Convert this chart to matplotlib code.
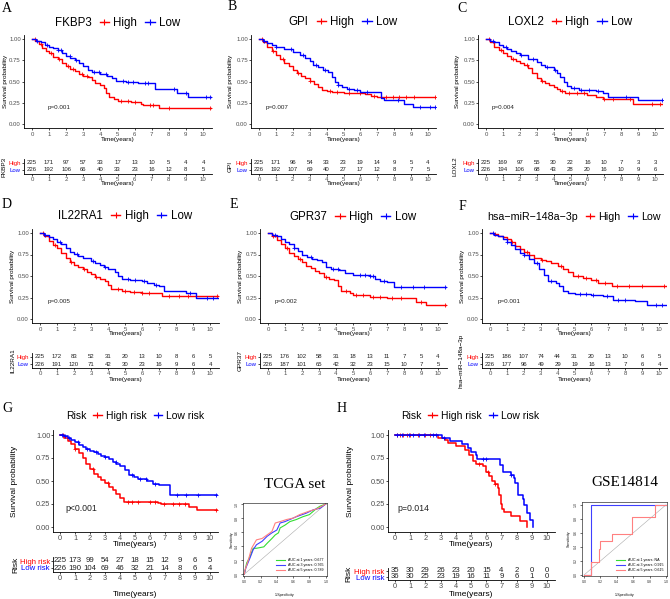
import numpy as np
import matplotlib
matplotlib.use('Agg')
import matplotlib.pyplot as plt
from matplotlib.lines import Line2D

plt.rcParams['font.family'] = ['Liberation Sans', 'DejaVu Sans']

W, H = 670, 599
RED = '#ff0000'
BLUE = '#0000ff'
GREY = '#4d4d4d'

# risk table time points
times = [0, 1, 2, 3, 4, 5, 6, 7, 8, 9, 10]

# ---- survival curves: (time, survival) step points ----
fkbp3_high = [(0, 1.0), (0.2, 0.98), (0.4, 0.94), (0.6, 0.9), (0.8, 0.86), (1.0, 0.83), (1.25, 0.79), (1.5, 0.76),
              (1.75, 0.72), (2.0, 0.68), (2.25, 0.65), (2.5, 0.62), (2.75, 0.59), (3.0, 0.57), (3.25, 0.55),
              (3.5, 0.52), (3.7, 0.48), (4.0, 0.46), (4.2, 0.42), (4.3, 0.36), (4.5, 0.32), (4.8, 0.29),
              (5.0, 0.27), (5.8, 0.26), (6.4, 0.24), (6.5, 0.22), (7.4, 0.19)]
fkbp3_low = [(0, 1.0), (0.25, 0.98), (0.5, 0.96), (0.75, 0.93), (1.0, 0.91), (1.25, 0.89), (1.5, 0.87), (1.75, 0.84),
             (2.0, 0.8), (2.25, 0.78), (2.5, 0.75), (2.75, 0.72), (3.0, 0.68), (3.25, 0.64), (3.5, 0.61), (4.0, 0.59),
             (4.4, 0.57), (4.7, 0.54), (4.9, 0.51), (5.5, 0.5), (6.2, 0.48), (7.2, 0.41), (8.5, 0.37), (9.1, 0.32)]
gpi_high = [(0, 1.0), (0.25, 0.96), (0.5, 0.91), (0.75, 0.86), (1.0, 0.81), (1.25, 0.77), (1.5, 0.72), (1.75, 0.68),
            (2.0, 0.64), (2.25, 0.6), (2.5, 0.57), (2.75, 0.54), (3.0, 0.51), (3.25, 0.47), (3.5, 0.43), (3.75, 0.4),
            (4.0, 0.39), (4.3, 0.38), (5.0, 0.37), (6.3, 0.35), (6.6, 0.33), (7.0, 0.32)]
gpi_low = [(0, 1.0), (0.25, 0.98), (0.5, 0.95), (0.75, 0.93), (1.0, 0.91), (1.5, 0.88), (2.0, 0.85), (2.4, 0.81),
           (2.7, 0.78), (3.0, 0.74), (3.2, 0.7), (3.5, 0.67), (3.8, 0.64), (4.1, 0.61), (4.3, 0.55), (4.5, 0.5),
           (4.7, 0.46), (4.9, 0.43), (5.2, 0.41), (5.6, 0.4), (6.0, 0.38), (7.2, 0.31), (7.4, 0.28), (8.6, 0.24),
           (9.1, 0.2)]
loxl2_high = [(0, 1.0), (0.25, 0.96), (0.5, 0.91), (0.75, 0.87), (1.0, 0.83), (1.25, 0.8), (1.5, 0.77), (1.75, 0.74),
              (2.0, 0.72), (2.25, 0.69), (2.5, 0.66), (2.75, 0.6), (3.0, 0.54), (3.25, 0.51), (3.5, 0.48),
              (3.75, 0.46), (4.0, 0.44), (4.2, 0.41), (4.4, 0.39), (4.7, 0.37), (5.0, 0.36), (6.0, 0.34),
              (6.5, 0.32), (6.9, 0.3), (7.3, 0.29), (8.7, 0.23)]
loxl2_low = [(0, 1.0), (0.25, 0.98), (0.5, 0.96), (0.75, 0.93), (1.0, 0.91), (1.25, 0.88), (1.5, 0.86), (1.75, 0.83),
             (2.0, 0.81), (2.5, 0.77), (3.0, 0.73), (3.25, 0.7), (3.5, 0.67), (4.0, 0.63), (4.2, 0.6), (4.4, 0.55),
             (4.6, 0.5), (4.8, 0.45), (5.0, 0.42), (5.5, 0.4), (6.5, 0.39), (6.9, 0.37), (7.2, 0.32), (9.0, 0.28)]
il22ra1_high = [(0, 1.0), (0.25, 0.96), (0.5, 0.91), (0.75, 0.86), (1.0, 0.82), (1.25, 0.77), (1.5, 0.71),
                (1.75, 0.66), (2.0, 0.63), (2.25, 0.6), (2.5, 0.58), (2.75, 0.55), (3.0, 0.52), (3.25, 0.49),
                (3.5, 0.46), (3.8, 0.44), (4.0, 0.4), (4.2, 0.35), (4.8, 0.33), (5.3, 0.31), (6.0, 0.3), (7.2, 0.27)]
il22ra1_low = [(0, 1.0), (0.25, 0.98), (0.5, 0.95), (0.75, 0.93), (1.0, 0.9), (1.25, 0.87), (1.5, 0.82), (1.75, 0.78),
               (2.0, 0.76), (2.25, 0.73), (2.5, 0.71), (3.0, 0.67), (3.25, 0.65), (3.5, 0.63), (3.75, 0.6),
               (4.0, 0.58), (4.4, 0.55), (4.6, 0.5), (4.8, 0.47), (5.3, 0.45), (6.0, 0.44), (6.3, 0.42), (6.7, 0.4),
               (7.0, 0.38), (7.3, 0.33), (8.6, 0.3), (9.2, 0.24)]
gpr37_high = [(0, 1.0), (0.25, 0.97), (0.5, 0.92), (0.75, 0.87), (1.0, 0.82), (1.25, 0.77), (1.5, 0.73), (1.75, 0.7),
              (2.0, 0.66), (2.25, 0.62), (2.5, 0.59), (2.75, 0.56), (3.0, 0.53), (3.3, 0.49), (3.6, 0.47),
              (3.9, 0.45), (4.1, 0.38), (4.3, 0.33), (4.8, 0.3), (5.0, 0.28), (6.0, 0.26), (7.0, 0.24), (8.7, 0.2),
              (9.3, 0.16)]
gpr37_low = [(0, 1.0), (0.25, 0.98), (0.5, 0.96), (0.75, 0.93), (1.0, 0.9), (1.25, 0.87), (1.5, 0.83), (1.75, 0.79),
             (2.0, 0.75), (2.3, 0.72), (2.6, 0.7), (2.9, 0.69), (3.2, 0.66), (3.4, 0.6), (3.7, 0.58), (4.2, 0.57),
             (4.5, 0.53), (5.0, 0.51), (6.0, 0.5), (6.3, 0.47), (6.6, 0.44), (7.0, 0.43), (7.4, 0.37)]
mir_high = [(0, 1.0), (0.25, 0.99), (0.5, 0.97), (0.75, 0.95), (1.0, 0.93), (1.25, 0.9), (1.5, 0.85), (1.75, 0.81),
            (2.0, 0.78), (2.3, 0.74), (2.6, 0.71), (3.0, 0.69), (3.3, 0.67), (3.6, 0.65), (4.0, 0.62), (4.3, 0.58),
            (4.6, 0.55), (4.9, 0.5), (5.5, 0.48), (6.0, 0.45), (6.4, 0.42), (7.2, 0.38)]
mir_low = [(0, 1.0), (0.25, 0.98), (0.5, 0.96), (0.75, 0.93), (1.0, 0.9), (1.25, 0.86), (1.5, 0.81), (1.75, 0.77),
           (2.0, 0.74), (2.3, 0.7), (2.6, 0.65), (2.9, 0.58), (3.2, 0.51), (3.45, 0.44), (3.9, 0.42), (4.1, 0.38),
           (4.3, 0.33), (4.6, 0.3), (5.0, 0.29), (6.0, 0.28), (6.7, 0.27), (7.3, 0.22), (8.6, 0.21), (9.3, 0.16)]
tcga_high = [(0, 1.0), (0.25, 0.97), (0.5, 0.94), (0.75, 0.9), (1.0, 0.85), (1.25, 0.8), (1.5, 0.75), (1.75, 0.69),
             (2.0, 0.63), (2.25, 0.58), (2.5, 0.54), (2.75, 0.51), (3.0, 0.48), (3.25, 0.44), (3.5, 0.4),
             (3.75, 0.36), (4.0, 0.32), (4.25, 0.27), (6.5, 0.26), (6.7, 0.25), (8.6, 0.22), (9.1, 0.18)]
tcga_low = [(0, 1.0), (0.25, 0.99), (0.5, 0.97), (0.75, 0.95), (1.0, 0.92), (1.25, 0.89), (1.5, 0.87), (1.75, 0.85),
            (2.0, 0.83), (2.25, 0.81), (2.5, 0.79), (2.75, 0.77), (3.0, 0.76), (3.25, 0.74), (3.5, 0.71),
            (3.75, 0.69), (4.0, 0.66), (4.3, 0.62), (4.6, 0.57), (4.9, 0.54), (5.2, 0.52), (5.8, 0.5), (6.2, 0.47),
            (6.6, 0.46), (7.3, 0.35)]
gse_high = [(0, 1.0), (2.8, 0.97), (3.3, 0.95), (3.5, 0.91), (4.0, 0.88), (4.6, 0.84), (4.9, 0.78), (5.1, 0.72),
            (5.3, 0.69), (5.8, 0.66), (6.0, 0.6), (6.2, 0.55), (6.4, 0.5), (6.6, 0.47), (6.75, 0.42), (6.85, 0.35),
            (6.95, 0.25), (7.05, 0.2), (7.2, 0.16), (7.6, 0.12), (8.25, 0.06), (8.7, 0.0)]
gse_low = [(0, 1.0), (3.1, 0.97), (3.6, 0.94), (4.4, 0.9), (4.8, 0.86), (5.0, 0.82), (5.3, 0.78), (5.4, 0.74),
           (6.9, 0.67), (7.1, 0.6), (7.6, 0.57), (7.8, 0.53), (7.9, 0.48), (8.1, 0.35), (8.4, 0.3), (8.5, 0.24),
           (8.7, 0.15), (8.85, 0.08), (9.05, 0.0)]

# ---- censoring times ----
fkbp3_high_cens = [0.15, 0.5, 1.1, 1.6, 2.1, 2.4, 2.9, 3.2, 5.2, 5.6, 6.0, 6.9, 7.1, 8.0, 10.4]
fkbp3_low_cens = [0.3, 0.9, 1.5, 1.7, 2.2, 2.6, 3.6, 3.9, 4.3, 5.3, 5.6, 5.9, 6.6, 6.8, 8.3, 9.0, 10.2, 10.4]
gpi_high_cens = [0.2, 0.8, 1.4, 2.3, 3.0, 4.2, 4.6, 5.3, 6.0, 6.8, 7.5, 7.9, 8.3, 8.7, 9.2, 10.4]
gpi_low_cens = [0.3, 1.0, 1.9, 2.6, 3.4, 3.9, 4.7, 5.3, 5.8, 6.4, 8.2, 9.5, 10.1, 10.4]
loxl2_high_cens = [0.2, 0.9, 1.6, 2.4, 3.3, 4.5, 4.9, 5.4, 5.8, 7.0, 7.5, 8.5, 9.8, 10.3]
loxl2_low_cens = [0.4, 1.2, 2.1, 2.8, 3.6, 4.1, 5.2, 5.6, 6.1, 6.6, 8.3, 10.4]
il22ra1_high_cens = [0.2, 0.9, 1.8, 2.6, 3.3, 4.6, 5.0, 5.5, 6.0, 6.4, 7.6, 8.2, 8.7, 10.4]
il22ra1_low_cens = [0.3, 1.2, 2.2, 3.1, 3.8, 5.2, 5.6, 6.1, 6.8, 8.8, 9.8, 10.2]
gpr37_high_cens = [0.3, 1.1, 1.9, 3.4, 4.6, 5.2, 5.6, 6.2, 6.6, 7.3, 7.8, 9.0, 10.4]
gpr37_low_cens = [0.4, 1.5, 2.5, 3.8, 4.1, 5.4, 5.7, 6.0, 6.2, 6.8, 7.8, 8.5, 9.2, 10.4]
mir_high_cens = [0.3, 1.3, 2.2, 3.1, 4.2, 5.2, 5.7, 6.3, 6.8, 7.5, 8.2, 9.0, 10.3]
mir_low_cens = [0.2, 1.0, 2.0, 2.8, 3.6, 5.3, 5.7, 6.1, 6.9, 7.6, 8.0, 9.8, 10.2]
tcga_high_cens = [0.2, 1.0, 2.2, 3.2, 4.5, 4.8, 5.2, 6.0, 6.3, 6.9, 7.5, 7.9, 8.3, 10.4]
tcga_low_cens = [0.1, 0.3, 0.6, 1.2, 1.8, 2.4, 3.0, 3.7, 4.8, 5.3, 5.7, 6.3, 7.8, 8.4, 9.2, 10.4]
gse_high_cens = [0.15, 0.35, 0.5, 0.8, 1.0, 1.5, 2.0, 2.3, 5.5, 6.1, 6.6]
gse_low_cens = [0.1, 0.45, 0.9, 1.2, 1.6, 1.9, 2.5, 2.7, 3.2, 5.8, 6.0, 7.6]

# ---- numbers at risk ----
fkbp3_risk_high = [225, 171, 97, 57, 33, 17, 13, 10, 5, 4, 4]
fkbp3_risk_low = [226, 192, 106, 66, 40, 33, 23, 16, 12, 8, 5]
gpi_risk_high = [225, 171, 96, 54, 33, 23, 19, 14, 9, 5, 4]
gpi_risk_low = [226, 192, 107, 69, 40, 27, 17, 12, 8, 7, 5]
loxl2_risk_high = [225, 169, 97, 55, 30, 22, 16, 10, 7, 3, 3]
loxl2_risk_low = [226, 194, 106, 68, 43, 28, 20, 16, 10, 9, 6]
il22ra1_risk_high = [225, 172, 83, 52, 31, 20, 13, 10, 8, 6, 5]
il22ra1_risk_low = [226, 191, 120, 71, 42, 30, 23, 16, 9, 6, 4]
gpr37_risk_high = [225, 176, 102, 58, 31, 18, 13, 11, 7, 5, 4]
gpr37_risk_low = [226, 187, 101, 65, 42, 32, 23, 15, 10, 7, 5]
mir_risk_high = [225, 186, 107, 74, 44, 31, 20, 13, 10, 6, 5]
mir_risk_low = [226, 177, 96, 49, 29, 19, 16, 13, 7, 6, 4]
tcga_risk_high = [225, 173, 99, 54, 27, 18, 15, 12, 9, 6, 5]
tcga_risk_low = [226, 190, 104, 69, 46, 32, 21, 14, 8, 6, 4]
gse_risk_high = [35, 30, 29, 26, 23, 20, 15, 4, 2, 0, 0]
gse_risk_low = [36, 30, 25, 23, 19, 16, 11, 9, 6, 1, 0]

# ---- ROC curves (1-specificity, sensitivity) ----
tcga_roc_1y = [(0, 0), (0.03, 0.16), (0.07, 0.25), (0.11, 0.37), (0.15, 0.37), (0.24, 0.39), (0.28, 0.44),
               (0.34, 0.51), (0.38, 0.56), (0.42, 0.59), (0.44, 0.66), (0.5, 0.7), (0.56, 0.75), (0.64, 0.78),
               (0.72, 0.82), (0.8, 0.85), (0.89, 0.94), (0.93, 0.97), (1, 1)]
tcga_roc_3y = [(0, 0), (0.02, 0.09), (0.07, 0.23), (0.11, 0.35), (0.15, 0.42), (0.22, 0.47), (0.28, 0.54),
               (0.34, 0.59), (0.4, 0.63), (0.44, 0.73), (0.5, 0.75), (0.56, 0.78), (0.64, 0.82), (0.76, 0.87),
               (0.85, 0.92), (0.93, 0.94), (1, 1)]
tcga_roc_5y = [(0, 0), (0.01, 0.06), (0.05, 0.2), (0.09, 0.37), (0.15, 0.49), (0.22, 0.51), (0.28, 0.56),
               (0.34, 0.61), (0.38, 0.73), (0.44, 0.75), (0.52, 0.78), (0.6, 0.8), (0.68, 0.85), (0.8, 0.9),
               (0.89, 0.93), (1, 1)]
tcga_auc_labels = ['AUC at 1 years: 0.677', 'AUC at 3 years: 0.765', 'AUC at 5 years: 0.789']
gse_roc_1y = []
gse_roc_3y = [(0, 0), (0.08, 0), (0.08, 1.0), (1, 1)]
gse_roc_5y = [(0, 0), (0.08, 0), (0.08, 0.19), (0.18, 0.19), (0.18, 0.37), (0.2, 0.37), (0.2, 0.49), (0.34, 0.49),
              (0.34, 0.59), (0.59, 0.59), (0.59, 0.83), (0.86, 0.83), (0.86, 1.0), (1, 1)]
gse_auc_labels = ['AUC at 1 years: NA', 'AUC at 3 years: 0.915', 'AUC at 5 years: 0.615']

MINUS = '\u2212'
mir_name = 'hsa' + MINUS + 'miR' + MINUS + '148a' + MINUS + '3p'

# layout in pixels of the reference picture
panels = [
    dict(letter='A', name='FKBP3', high=fkbp3_high, low=fkbp3_low, hc=fkbp3_high_cens, lc=fkbp3_low_cens,
         rh=fkbp3_risk_high, rl=fkbp3_risk_low, p='p=0.001', pt=1.6,
         x0=32, x10=203, y1=39, y0=124, rhi=163, rlo=170, rax=174, let=(7, 8), leg=(117.5, 23),
         ylab=5.8, rylab=4, xlab=140, rxlab=184, big=False),
    dict(letter='B', name='GPI', high=gpi_high, low=gpi_low, hc=gpi_high_cens, lc=gpi_low_cens,
         rh=gpi_risk_high, rl=gpi_risk_low, p='p=0.007', pt=1.05,
         x0=259, x10=428, y1=39, y0=124, rhi=163, rlo=170, rax=174, let=(232, 7), leg=(343, 22),
         ylab=230.5, rylab=230, xlab=140, rxlab=184, big=False),
    dict(letter='C', name='LOXL2', high=loxl2_high, low=loxl2_low, hc=loxl2_high_cens, lc=loxl2_low_cens,
         rh=loxl2_risk_high, rl=loxl2_risk_low, p='p=0.004', pt=1.0,
         x0=486, x10=655, y1=39, y0=124, rhi=163, rlo=170, rax=174, let=(462, 8), leg=(570, 22),
         ylab=457.5, rylab=455, xlab=140, rxlab=184, big=False),
    dict(letter='D', name='IL22RA1', high=il22ra1_high, low=il22ra1_low, hc=il22ra1_high_cens,
         lc=il22ra1_low_cens, rh=il22ra1_risk_high, rl=il22ra1_risk_low, p='p=0.005', pt=1.1,
         x0=40, x10=210, y1=233, y0=319, rhi=357, rlo=364, rax=368, let=(7, 205), leg=(125, 216),
         ylab=12.5, rylab=12.5, xlab=334, rxlab=379, big=False),
    dict(letter='E', name='GPR37', high=gpr37_high, low=gpr37_low, hc=gpr37_high_cens, lc=gpr37_low_cens,
         rh=gpr37_risk_high, rl=gpr37_risk_low, p='p=0.002', pt=1.06,
         x0=268, x10=438, y1=233, y0=319, rhi=357, rlo=364, rax=368, let=(234, 204), leg=(352.7, 216.7),
         ylab=240.5, rylab=240.5, xlab=334, rxlab=379, big=False),
    dict(letter='F', name=mir_name, high=mir_high, low=mir_low, hc=mir_high_cens, lc=mir_low_cens,
         rh=mir_risk_high, rl=mir_risk_low, p='p=0.001', pt=1.1,
         x0=490, x10=659, y1=233, y0=319, rhi=357, rlo=364, rax=368, let=(462, 206), leg=(574, 217),
         ylab=462.5, rylab=461.5, xlab=334, rxlab=379, big=False, legfs=7.7),
    dict(letter='G', name='Risk', high=tcga_high, low=tcga_low, hc=tcga_high_cens, lc=tcga_low_cens,
         rh=tcga_risk_high, rl=tcga_risk_low, p='p<0.001', pt=1.4,
         x0=60, x10=210, y1=435, y0=527, rhi=561, rlo=568, rax=572, let=(7, 409), leg=(135, 416),
         ylab=15, rylab=16, xlab=545, rxlab=594, big=True),
    dict(letter='H', name='Risk', high=gse_high, low=gse_low, hc=gse_high_cens, lc=gse_low_cens,
         rh=gse_risk_high, rl=gse_risk_low, p='p=0.014', pt=1.2,
         x0=395, x10=547, y1=435, y0=527, rhi=571, rlo=577, rax=580, let=(342, 409), leg=(470, 416),
         ylab=350, rylab=349, xlab=545, rxlab=594, big=True, no_extend=True),
]

XMIN, XMAX = -0.45, 10.5
YMIN, YMAX = -0.05, 1.05


def rect(l, t, r, b):
    return [l / W, 1 - b / H, (r - l) / W, (b - t) / H]


def style(ax, fs, pad=1.0):
    for s in ['top', 'right']:
        ax.spines[s].set_visible(False)
    for s in ['left', 'bottom']:
        ax.spines[s].set_linewidth(0.6)
    ax.tick_params(length=1.5, width=0.5, labelsize=fs, pad=pad, labelcolor=GREY)


def surv_at(t, s, c):
    i = np.searchsorted(t, c, side='right') - 1
    return s[max(i, 0)]


fig = plt.figure(figsize=(W / 100, H / 100), dpi=100)

for pnl in panels:
    big = pnl['big']
    fs_tick = 5.3 if big else 4.3
    fs_lab = 6.0 if big else 4.6
    fs_p = 6.3 if big else 4.5
    fs_num = 5.6 if big else 4.3
    fs_leg = pnl.get('legfs', 7.5 if big else 8.3)
    rows = ('High risk', 'Low risk') if big else ('High', 'Low')

    ppx = (pnl['x10'] - pnl['x0']) / 10.0
    left = pnl['x0'] + XMIN * ppx
    right = pnl['x0'] + XMAX * ppx
    ppy = pnl['y0'] - pnl['y1']
    top = pnl['y1'] - (YMAX - 1) * ppy
    bottom = pnl['y0'] - YMIN * ppy

    ax = fig.add_axes(rect(left, top, right, bottom))
    style(ax, fs_tick, pad=0.6 if big else 1.0)
    ax.set_xlim(XMIN, XMAX)
    ax.set_ylim(YMIN, YMAX)
    ax.set_xticks(times)
    ax.set_yticks([0, 0.25, 0.5, 0.75, 1.0])
    ax.set_yticklabels(['0.00', '0.25', '0.50', '0.75', '1.00'])

    for steps, cens, col in [(pnl['high'], pnl['hc'], RED), (pnl['low'], pnl['lc'], BLUE)]:
        t = [p[0] for p in steps]
        s = [p[1] for p in steps]
        if not pnl.get('no_extend'):
            t = t + [10.45]
            s = s + [s[-1]]
        ax.step(t, s, where='post', color=col, lw=1.1 if big else 1.0)
        cy = [surv_at(np.array(t), s, c) for c in cens]
        ax.plot(cens, cy, ls='none', marker='+', ms=3, mew=0.6, color=col)

    ax.text(pnl['pt'], 0.2, pnl['p'], ha='center', va='center', fontsize=fs_p, color='#222222')
    ax.set_xlabel('Time(years)', fontsize=fs_lab, va='center')
    ax.xaxis.set_label_coords(0.5, (bottom - pnl['xlab']) / (bottom - top))
    ax.set_ylabel('Survival probability', fontsize=fs_lab, va='center')
    ax.yaxis.set_label_coords((pnl['ylab'] - left) / (right - left), 0.5)

    # legend with the group name in front
    handles = [Line2D([], [], ls='none'),
               Line2D([], [], color=RED, lw=1.0, marker='+', ms=4, mew=0.8),
               Line2D([], [], color=BLUE, lw=1.0, marker='+', ms=4, mew=0.8)]
    labs = [pnl['name']] + [r for r in rows]
    hl = 0.8
    shift = (hl + 0.4) * fs_leg * 100 / 72 / 2
    ax.legend(handles, labs, ncol=3, loc='center', frameon=False, fontsize=fs_leg,
              handlelength=hl, handletextpad=0.4, columnspacing=0.7, borderpad=0, borderaxespad=0,
              bbox_to_anchor=((pnl['leg'][0] - shift) / W, 1 - pnl['leg'][1] / H),
              bbox_transform=fig.transFigure)

    # risk table
    ppr = pnl['rlo'] - pnl['rhi']
    gap = pnl['rax'] - pnl['rlo']
    rtop = pnl['rhi'] - gap
    rax = fig.add_axes(rect(left, rtop, right, pnl['rax']))
    style(rax, fs_tick)
    rax.set_xlim(XMIN, XMAX)
    rax.set_ylim(-gap / ppr, 1 + gap / ppr)
    rax.set_xticks(times)
    rax.set_yticks([1, 0])
    rax.set_yticklabels(rows, fontsize=fs_num)
    for lbl, col in zip(rax.get_yticklabels(), [RED, BLUE]):
        lbl.set_color(col)
    for tm, nh, nl in zip(times, pnl['rh'], pnl['rl']):
        rax.text(tm, 1, str(nh), ha='center', va='center', fontsize=fs_num, color='#222222')
        rax.text(tm, 0, str(nl), ha='center', va='center', fontsize=fs_num, color='#222222')
    rh_px = pnl['rax'] - rtop
    rax.set_xlabel('Time(years)', fontsize=fs_lab, va='center')
    rax.xaxis.set_label_coords(0.5, (pnl['rax'] - pnl['rxlab']) / rh_px)
    rax.set_ylabel(pnl['name'], fontsize=fs_lab, va='center')
    rax.yaxis.set_label_coords((pnl['rylab'] - left) / (right - left), 0.5)

    fig.text(pnl['let'][0] / W, 1 - pnl['let'][1] / H, pnl['letter'], family=['Liberation Serif', 'DejaVu Serif'],
             fontsize=10, ha='center', va='center')

# ROC panels
roc_panels = [
    dict(title='TCGA set', box=(243, 503, 327, 576), xlim=(-0.015, 1.015), ylim=(-0.025, 1.015),
         title_xy=(295, 485), curves=[tcga_roc_1y, tcga_roc_3y, tcga_roc_5y], labels=tcga_auc_labels,
         ylab_x=232),
    dict(title='GSE14814', box=(582, 502, 667, 576), xlim=(-0.025, 1.012), ylim=(-0.015, 1.04),
         title_xy=(625, 482), curves=[gse_roc_1y, gse_roc_3y, gse_roc_5y], labels=gse_auc_labels,
         ylab_x=569),
]
roc_colors = ['#33dd33', '#4040ff', '#ff8080']

for r in roc_panels:
    l, t, rr, b = r['box']
    ax = fig.add_axes(rect(l, t, rr, b))
    ax.set_xlim(*r['xlim'])
    ax.set_ylim(*r['ylim'])
    for s in ax.spines.values():
        s.set_linewidth(0.4)
    ax.plot([0, 1], [0, 1], color='#aaaaaa', lw=0.4)
    hs = []
    for pts, col, lab in zip(r['curves'], roc_colors, r['labels']):
        xs = [p[0] for p in pts]
        ys = [p[1] for p in pts]
        h, = ax.plot(xs, ys, color=col, lw=0.8, label=lab)
        hs.append(h)
    ticks = [0, 0.2, 0.4, 0.6, 0.8, 1.0]
    tl = ['0.0', '0.2', '0.4', '0.6', '0.8', '1.0']
    ax.set_xticks(ticks)
    ax.set_xticklabels(tl)
    ax.set_yticks(ticks)
    ax.set_yticklabels(tl, rotation=90, va='center')
    ax.tick_params(length=1.2, width=0.4, labelsize=2.6, pad=1.5, labelcolor='#333333')
    ax.set_xlabel('1-Specificity', fontsize=2.6, va='center')
    ax.xaxis.set_label_coords(0.5, (b - 595) / (b - t))
    ax.set_ylabel('Sensitivity', fontsize=2.6, va='center')
    ax.yaxis.set_label_coords((r['ylab_x'] - l) / (rr - l), 0.5)
    ax.legend(handles=hs, loc='lower right', frameon=False, fontsize=2.6, handlelength=2.6,
              handletextpad=0.8, labelspacing=0.3, borderaxespad=0.6)
    fig.text(r['title_xy'][0] / W, 1 - r['title_xy'][1] / H, r['title'],
             family=['Liberation Serif', 'DejaVu Serif'], fontsize=11, ha='center', va='center')

fig.savefig('out.png', dpi=100)
